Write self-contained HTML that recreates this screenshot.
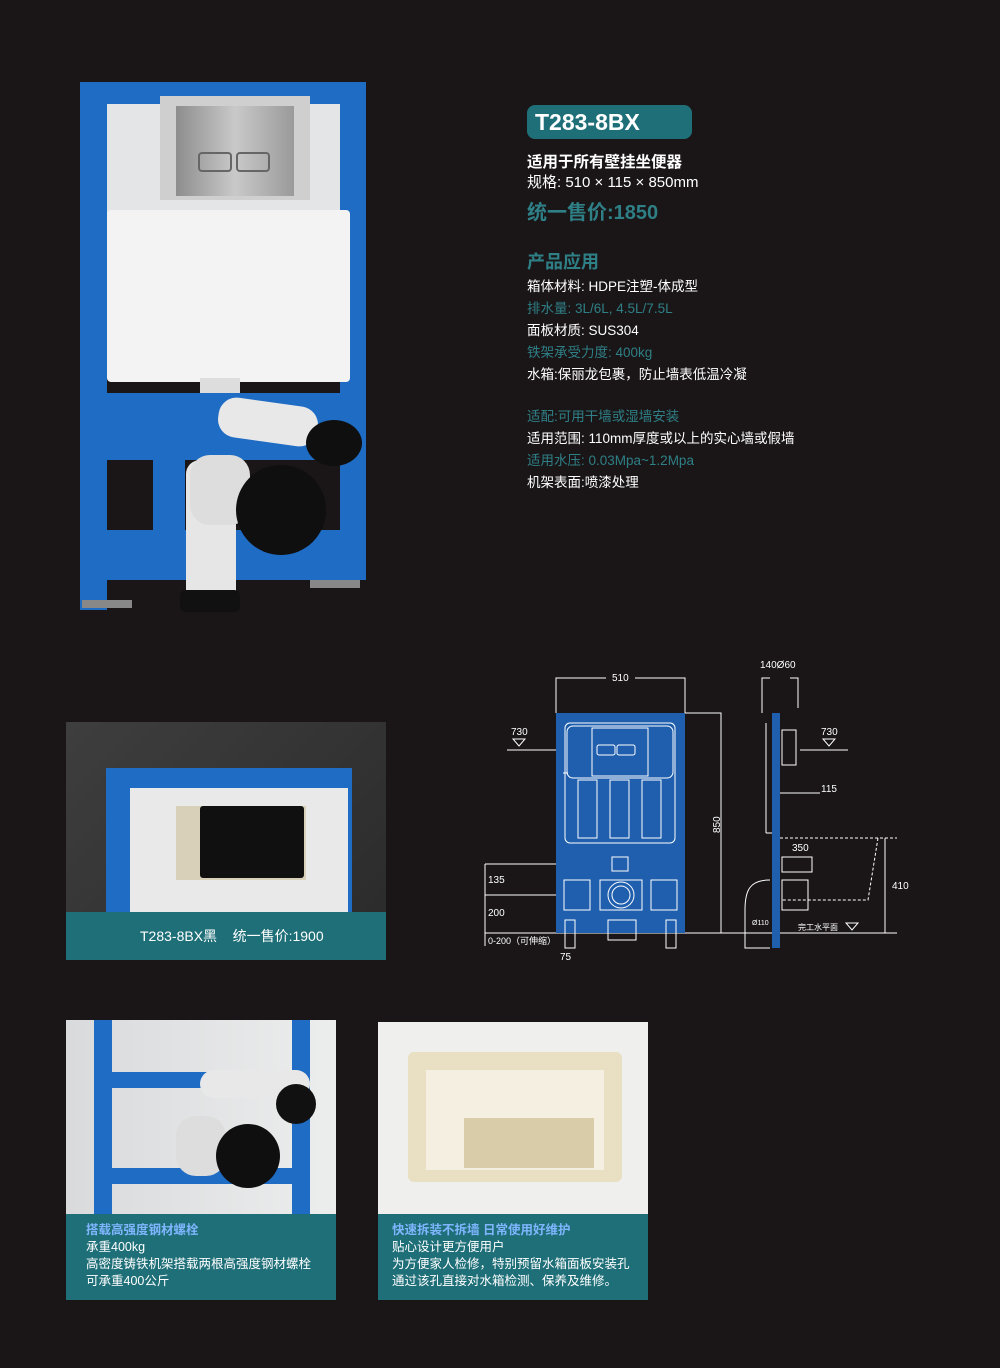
<!DOCTYPE html>
<html><head><meta charset="utf-8"><style>
*{margin:0;padding:0;box-sizing:border-box}
body{width:1000px;height:1368px;background:#1a1617;position:relative;overflow:hidden;font-family:"Liberation Sans","Noto Sans CJK SC",sans-serif;color:#fff}
.a{position:absolute}
.t{color:#2e7f86}
.spec div{font-size:13.5px;line-height:22px;white-space:nowrap}
</style></head><body>

<!-- main product -->
<div class="a" style="left:0;top:0;width:400px;height:620px">
 <div class="a" style="left:80px;top:82px;width:286px;height:22px;background:#1f6cc4"></div>
 <div class="a" style="left:80px;top:82px;width:27px;height:528px;background:#1f6cc4"></div>
 <div class="a" style="left:340px;top:82px;width:26px;height:498px;background:#1f6cc4"></div>
 <div class="a" style="left:107px;top:104px;width:233px;height:110px;background:#e3e5e6"></div>
 <div class="a" style="left:160px;top:96px;width:150px;height:104px;background:#cfcfcf"></div>
 <div class="a" style="left:176px;top:106px;width:118px;height:90px;background:linear-gradient(90deg,#8d8d8d,#c9c9c9,#9a9a9a)"></div>
 <div class="a" style="left:198px;top:152px;width:34px;height:20px;border:2px solid #666;border-radius:4px"></div>
 <div class="a" style="left:236px;top:152px;width:34px;height:20px;border:2px solid #666;border-radius:4px"></div>
 <div class="a" style="left:107px;top:210px;width:243px;height:172px;background:#f3f3f3;border-radius:4px"></div>
 <div class="a" style="left:200px;top:378px;width:40px;height:20px;background:#ddd"></div>
 <div class="a" style="left:107px;top:393px;width:240px;height:67px;background:#1f6cc4"></div>
 <div class="a" style="left:107px;top:530px;width:240px;height:50px;background:#1f6cc4"></div>
 <div class="a" style="left:153px;top:455px;width:32px;height:90px;background:#1f6cc4"></div>
 <div class="a" style="left:186px;top:460px;width:50px;height:140px;background:#e6e6e6;border-radius:14px 14px 0 0"></div>
 <div class="a" style="left:180px;top:590px;width:60px;height:22px;background:#111;border-radius:6px"></div>
 <div class="a" style="left:218px;top:402px;width:100px;height:40px;background:#e8e8e8;border-radius:18px;transform:rotate(8deg)"></div>
 <div class="a" style="left:306px;top:420px;width:56px;height:46px;background:#0f0f0f;border-radius:50%"></div>
 <div class="a" style="left:190px;top:455px;width:60px;height:70px;background:#ddd;border-radius:20px"></div>
 <div class="a" style="left:236px;top:465px;width:90px;height:90px;background:#0f0f0f;border-radius:50%"></div>
 <div class="a" style="left:82px;top:600px;width:50px;height:8px;background:#888"></div>
 <div class="a" style="left:310px;top:580px;width:50px;height:8px;background:#888"></div>
</div>

<!-- text block -->
<div class="a" style="left:527px;top:105px;width:165px;height:34px;background:#1f6f78;border-radius:8px;font-size:23px;font-weight:bold;line-height:34px;padding-left:8px">T283-8BX</div>
<div class="a" style="left:527px;top:150px;font-size:15.5px;font-weight:bold">适用于所有壁挂坐便器</div>
<div class="a" style="left:527px;top:171px;font-size:15px">规格: 510 × 115 × 850mm</div>
<div class="a t" style="left:527px;top:196px;font-size:20px;font-weight:bold">统一售价:1850</div>
<div class="a t" style="left:527px;top:248px;font-size:18px;font-weight:bold">产品应用</div>
<div class="a spec" style="left:527px;top:276px">
<div>箱体材料: HDPE注塑-体成型</div>
<div class="t">排水量: 3L/6L, 4.5L/7.5L</div>
<div>面板材质: SUS304</div>
<div class="t">铁架承受力度: 400kg</div>
<div>水箱:保丽龙包裹，防止墙表低温冷凝</div>
<div style="height:20px"></div>
<div class="t">适配:可用干墙或湿墙安装</div>
<div>适用范围: 110mm厚度或以上的实心墙或假墙</div>
<div class="t">适用水压: 0.03Mpa~1.2Mpa</div>
<div>机架表面:喷漆处理</div>
</div>

<!-- black panel product -->
<div class="a" style="left:66px;top:722px;width:320px;height:238px;background:linear-gradient(135deg,#3e3e3e,#2a2a2a);overflow:hidden">
 <div class="a" style="left:40px;top:46px;width:246px;height:150px;background:#1f6cc4"></div>
 <div class="a" style="left:64px;top:66px;width:218px;height:130px;background:#e9e9ea"></div>
 <div class="a" style="left:110px;top:84px;width:130px;height:74px;background:#d8d0b8"></div>
 <div class="a" style="left:134px;top:84px;width:104px;height:72px;background:#101010;border-radius:3px"></div>
 <div class="a" style="left:0;top:190px;width:320px;height:48px;background:#1f6f78;font-size:14px;line-height:48px;padding-left:74px;color:#fff">T283-8BX黑&nbsp;&nbsp;&nbsp;&nbsp;统一售价:1900</div>
</div>

<!-- drawing -->
<svg class="a" style="left:0;top:0" width="1000" height="1368" font-family="Liberation Sans,Noto Sans CJK SC,sans-serif" font-size="9" fill="#fff">
 <g stroke="#fff" stroke-width="1" fill="none">
  <path d="M556 713V678h50M635 678h50v35"/>
  <path d="M685 713h36v220M485 933h412"/>
  <path d="M507 750h60M800 750h48M780 793h40"/>
  <path d="M485 864h150M485 895h150M485 864v82"/>
  <path d="M762 713v-35h8M790 678h8v30"/>
 </g>
 <rect x="556" y="713" width="129" height="220" fill="#1f5fae"/>
 <g stroke="#fff" stroke-width="1" fill="none">
  <rect x="565" y="723" width="110" height="120" rx="5"/>
  <rect x="567" y="726" width="106" height="52" rx="6"/>
  <rect x="592" y="728" width="56" height="48"/>
  <rect x="597" y="745" width="18" height="10" rx="2"/><rect x="617" y="745" width="18" height="10" rx="2"/>
  <rect x="578" y="780" width="19" height="58"/><rect x="610" y="780" width="19" height="58"/><rect x="642" y="780" width="19" height="58"/>
  <rect x="612" y="857" width="16" height="14"/>
  <rect x="564" y="880" width="26" height="30"/><rect x="600" y="880" width="42" height="30"/><rect x="651" y="880" width="26" height="30"/>
  <circle cx="621" cy="895" r="13"/><circle cx="621" cy="895" r="9"/>
  <rect x="565" y="920" width="10" height="28"/><rect x="666" y="920" width="10" height="28"/>
  <rect x="608" y="920" width="28" height="20"/>
  <path d="M568 773h-5M766 723v110M766 833h8M770 880c-20 0-25 10-25 30v38h25"/>
  <rect x="782" y="730" width="14" height="35"/>
  <rect x="782" y="857" width="30" height="15"/><rect x="782" y="880" width="26" height="30"/>
  <path d="M780 838h117M878 838l-10 62h-86" stroke-dasharray="3 2"/>
  <path d="M885 838v95"/>
 </g>
 <rect x="772" y="713" width="8" height="235" fill="#1f5fae"/>
 <g font-size="10">
 <text x="612" y="681">510</text><text x="760" y="668">140Ø60</text>
 <text x="511" y="735">730</text><text x="821" y="735">730</text>
 <text x="821" y="792">115</text>
 <text x="720" y="833" transform="rotate(-90 720 833)">850</text>
 <text x="792" y="851">350</text><text x="892" y="889">410</text>
 <text x="488" y="883">135</text><text x="488" y="916">200</text>
 <text x="488" y="944" font-size="9">0-200（可伸缩）</text><text x="560" y="960">75</text>
 <text x="798" y="930" font-size="8">完工水平面</text>
 <text x="752" y="925" font-size="7">Ø110</text>
 </g>
 <path d="M513 739h12l-6 7zM823 739h12l-6 7zM846 923h12l-6 7z" fill="none" stroke="#fff"/>
</svg>

<!-- bottom panels -->
<div class="a" style="left:66px;top:1020px;width:270px;height:280px;background:linear-gradient(90deg,#d9dadc,#eceded);overflow:hidden">
 <div class="a" style="left:28px;top:0;width:18px;height:200px;background:#1f6cc4"></div>
 <div class="a" style="left:226px;top:0;width:18px;height:200px;background:#1f6cc4"></div>
 <div class="a" style="left:46px;top:52px;width:180px;height:16px;background:#1f6cc4"></div>
 <div class="a" style="left:46px;top:148px;width:180px;height:16px;background:#1f6cc4"></div>
 <div class="a" style="left:134px;top:50px;width:110px;height:28px;background:#e8e8e8;border-radius:14px"></div>
 <div class="a" style="left:210px;top:64px;width:40px;height:40px;background:#111;border-radius:50%"></div>
 <div class="a" style="left:110px;top:96px;width:50px;height:60px;background:#ddd;border-radius:20px"></div>
 <div class="a" style="left:150px;top:104px;width:64px;height:64px;background:#0f0f0f;border-radius:50%"></div>
 <div class="a" style="left:0;top:194px;width:270px;height:86px;background:#1f6f78;padding:8px 0 0 20px;font-size:12.5px;line-height:17px">
  <div style="color:#7fb6ff;font-weight:bold">搭载高强度钢材螺栓</div><div>承重400kg</div><div>高密度铸铁机架搭载两根高强度钢材螺栓</div><div>可承重400公斤</div>
 </div>
</div>
<div class="a" style="left:378px;top:1022px;width:270px;height:278px;background:#efefee;overflow:hidden">
 <div class="a" style="left:30px;top:30px;width:214px;height:130px;background:#e9dfc3;border-radius:6px"></div>
 <div class="a" style="left:48px;top:48px;width:178px;height:100px;background:#f4efe0"></div>
 <div class="a" style="left:86px;top:96px;width:130px;height:50px;background:#d9cda9"></div>
 <div class="a" style="left:0;top:192px;width:270px;height:86px;background:#1f6f78;padding:8px 0 0 14px;font-size:12.5px;line-height:17px">
  <div style="color:#7fb6ff;font-weight:bold">快速拆装不拆墙 日常使用好维护</div><div>贴心设计更方便用户</div><div>为方便家人检修，特别预留水箱面板安装孔</div><div>通过该孔直接对水箱检测、保养及维修。</div>
 </div>
</div>
</body></html>
